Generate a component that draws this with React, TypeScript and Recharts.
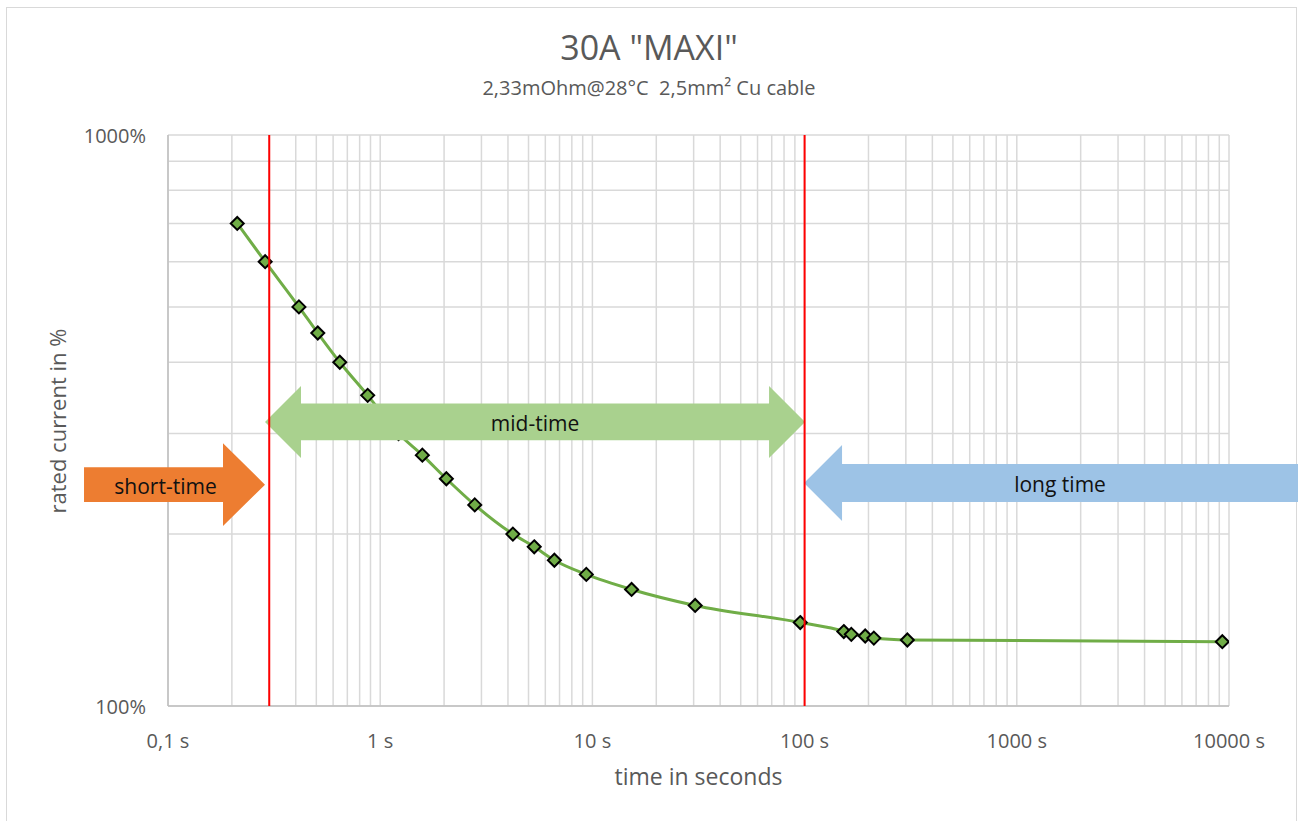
import { LineChart, Line, XAxis, YAxis, CartesianGrid, ReferenceLine, ReferenceArea } from 'recharts';

// fuse trip curve (time in s, current in % of rating)
const times = [0.212, 0.287, 0.414, 0.508, 0.645, 0.873, 1.22, 1.58, 2.05, 2.79, 4.22, 5.32, 6.62, 9.36, 15.3, 30.5, 95.4, 153, 166, 193, 212, 305, 9300];
const percents = [700, 600, 500, 450, 400, 350, 300, 275, 250, 225, 200, 190, 180, 170, 160, 150, 140, 135, 133.5, 132.6, 131.5, 130.5, 129.6];

const xTicks = [
  0.1, 0.2, 0.3, 0.4, 0.5, 0.6, 0.7, 0.8, 0.9,
  1, 2, 3, 4, 5, 6, 7, 8, 9,
  10, 20, 30, 40, 50, 60, 70, 80, 90,
  100, 200, 300, 400, 500, 600, 700, 800, 900,
  1000, 2000, 3000, 4000, 5000, 6000, 7000, 8000, 9000,
  10000,
];
const xLabels: Record<number, string> = { 0.1: '0,1 s', 1: '1 s', 10: '10 s', 100: '100 s', 1000: '1000 s', 10000: '10000 s' };
const yTicks = [100, 200, 300, 400, 500, 600, 700, 800, 900, 1000];
const yLabels: Record<number, string> = { 100: '100%', 1000: '1000%' };

// zone boundaries (s)
const zoneLines = [0.3, 100];

// zone arrows: time extent, percent extent
const shortX = [0.0402, 0.2865];
const shortY = [206.7, 288.4];
const midX = [0.2865, 100.5];
const midY = [271.9, 363.5];
const longX = [99.4, 21150];
const longY = [210.9, 286.5];

const data = times.map((t, i) => ({ t, p: percents[i] }));

const FONT = '"Open Sans", sans-serif';

function Diamond(props: any) {
  const { cx, cy, index } = props;
  if (cx == null || cy == null) return null;
  const r = 6.5;
  return (
    <polygon
      key={index}
      points={`${cx},${cy - r} ${cx + r},${cy} ${cx},${cy + r} ${cx - r},${cy}`}
      fill="#70ad47"
      stroke="#000"
      strokeWidth={2}
    />
  );
}

type ArrowOpts = { dir: 'left' | 'right' | 'both'; fill: string; head: number; body: number; label: string; shift: number };

function arrowShape(o: ArrowOpts) {
  return (p: any) => {
    const { x, y, width: w, height: h } = p;
    if (x == null || y == null) return null;
    const t = h * o.body;
    const cy = y + h / 2;
    const top = cy - t / 2;
    const bot = cy + t / 2;
    const L = o.head;
    let pts: number[][] = [];
    if (o.dir === 'right') {
      pts = [[x, top], [x + w - L, top], [x + w - L, y], [x + w, cy], [x + w - L, y + h], [x + w - L, bot], [x, bot]];
    } else if (o.dir === 'left') {
      pts = [[x + w, top], [x + L, top], [x + L, y], [x, cy], [x + L, y + h], [x + L, bot], [x + w, bot]];
    } else {
      pts = [[x, cy], [x + L, y], [x + L, top], [x + w - L, top], [x + w - L, y], [x + w, cy], [x + w - L, y + h], [x + w - L, bot], [x + L, bot], [x + L, y + h]];
    }
    return (
      <g>
        <polygon points={pts.map((q) => q.join(',')).join(' ')} fill={o.fill} />
        <text x={x + w / 2 + o.shift} y={cy + 1} textAnchor="middle" dominantBaseline="central" fontSize={21} fontFamily={FONT} fill="#111">
          {o.label}
        </text>
      </g>
    );
  };
}

function XTick(props: any) {
  const { x, y, payload } = props;
  const label = xLabels[payload.value];
  if (!label) return null;
  return (
    <text x={x} y={y + 34} textAnchor="middle" fontSize={20} fontFamily={FONT} fill="#595959">
      {label}
    </text>
  );
}

function YTick(props: any) {
  const { x, y, payload } = props;
  const label = yLabels[payload.value];
  if (!label) return null;
  return (
    <text x={x - 14} y={y} textAnchor="end" dominantBaseline="central" fontSize={20} fontFamily={FONT} fill="#595959">
      {label}
    </text>
  );
}

export default function App() {
  return (
    <div style={{ position: 'absolute', left: 0, top: 0, width: 1298, height: 821, background: '#fff', overflow: 'hidden', fontFamily: FONT }}>
      <div style={{ position: 'absolute', left: 6, top: 7, width: 1289, height: 840, border: '1px solid #d9d9d9' }} />
      <div style={{ position: 'absolute', left: 0, top: 24, width: 1298, textAlign: 'center', fontSize: 34, color: '#595959', lineHeight: '46px' }}>30A "MAXI"</div>
      <div style={{ position: 'absolute', left: 0, top: 74, width: 1298, textAlign: 'center', fontSize: 20, color: '#595959', lineHeight: '28px' }}>2,33mOhm@28°C&nbsp; 2,5mm² Cu cable</div>
      <div style={{ position: 'absolute', left: 0, top: 0 }}>
        <LineChart width={1298} height={821} data={data} margin={{ top: 135, right: 69, bottom: 55, left: 0 }}>
          <CartesianGrid stroke="#d9d9d9" strokeWidth={1.5} />
          <XAxis
            dataKey="t"
            type="number"
            scale="log"
            domain={[0.1, 10000]}
            ticks={xTicks}
            interval={0}
            allowDataOverflow
            height={60}
            tickLine={false}
            axisLine={{ stroke: '#bfbfbf', strokeWidth: 1.5 }}
            tick={<XTick />}
          />
          <YAxis
            dataKey="p"
            type="number"
            scale="log"
            domain={[100, 1000]}
            ticks={yTicks}
            interval={0}
            allowDataOverflow
            width={168}
            tickLine={false}
            axisLine={{ stroke: '#bfbfbf', strokeWidth: 1.5 }}
            tick={<YTick />}
          />
          <Line type="monotone" dataKey="p" stroke="#70ad47" strokeWidth={3} dot={Diamond} activeDot={false} isAnimationActive={false} />
          <ReferenceArea
            x1={shortX[0]} x2={shortX[1]} y1={shortY[0]} y2={shortY[1]}
            ifOverflow="visible"
            zIndex={1500}
            shape={arrowShape({ dir: 'right', fill: '#ed7d31', head: 42, body: 0.42, label: 'short-time', shift: -9 })}
          />
          <ReferenceArea
            x1={midX[0]} x2={midX[1]} y1={midY[0]} y2={midY[1]}
            ifOverflow="visible"
            zIndex={1500}
            shape={arrowShape({ dir: 'both', fill: '#a9d18e', head: 36, body: 0.51, label: 'mid-time', shift: 0 })}
          />
          <ReferenceArea
            x1={longX[0]} x2={longX[1]} y1={longY[0]} y2={longY[1]}
            ifOverflow="visible"
            zIndex={1500}
            shape={arrowShape({ dir: 'left', fill: '#9dc3e6', head: 38, body: 0.5, label: 'long time', shift: 9 })}
          />
          {zoneLines.map((v) => (
            <ReferenceLine key={v} x={v} stroke="#ff0000" strokeWidth={2} zIndex={1600} />
          ))}
        </LineChart>
      </div>
      <div style={{ position: 'absolute', left: 168, top: 760, width: 1061, textAlign: 'center', fontSize: 23, color: '#595959' }}>time in seconds</div>
      <div
        style={{
          position: 'absolute', left: 57, top: 421, width: 300, textAlign: 'center', fontSize: 22, color: '#595959',
          transform: 'translate(-50%, -50%) rotate(-90deg)', whiteSpace: 'nowrap',
        }}
      >
        rated current in %
      </div>
    </div>
  );
}
